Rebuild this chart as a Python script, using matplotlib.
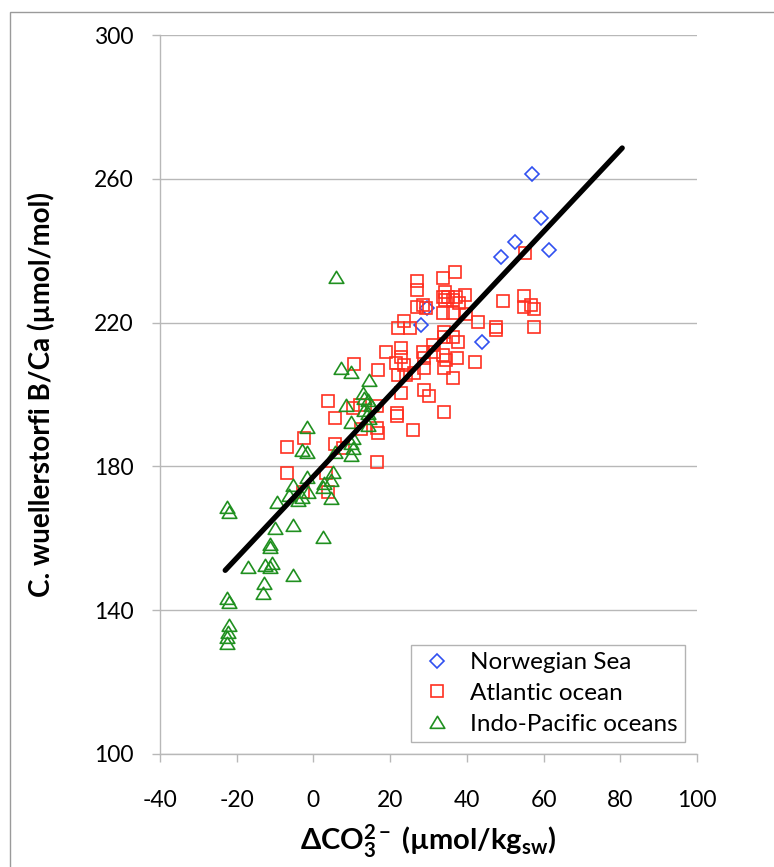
import numpy as np
import matplotlib
matplotlib.use("Agg")
import matplotlib.pyplot as plt
from matplotlib.patches import Rectangle
from matplotlib.path import Path

plt.rcParams['font.family'] = ['Lato', 'DejaVu Sans']
plt.rcParams['mathtext.fontset'] = 'custom'
plt.rcParams['mathtext.rm'] = 'Lato'
plt.rcParams['mathtext.bf'] = 'Lato:bold'
plt.rcParams['mathtext.it'] = 'Lato:italic'
plt.rcParams['axes.unicode_minus'] = False

# ---------------- data ----------------
norw_x = [57.1, 59.2, 52.5, 61.3, 48.8, 29.6, 28.1, 43.9]
norw_y = [261.3, 249.1, 242.4, 240.2, 238.2, 224.1, 219.3, 214.6]

atl_x = [55.2, 36.9, 33.9, 27.0, 27.0, 34.3, 33.9, 35.1, 37.1, 39.6,
         34.3, 36.3, 38.0, 27.0, 28.5, 29.4, 33.9, 36.3, 39.7, 49.4,
         54.9, 54.9, 56.6, 57.5, 57.5, 42.9, 47.6, 47.6, 23.6, 22.0,
         25.3, 34.1, 34.1, 36.3, 37.8, 31.1, 28.5, 28.9, 31.5, 19.0,
         22.9, 22.9, 21.6, 23.7, 33.7, 34.5, 37.4, 34.1, 42.2, 16.8,
         22.0, 24.2, 26.1, 28.7, 36.5, 22.9, 28.9, 30.2, 21.8, 21.8,
         34.1, 25.9, 16.6, 16.6, 10.7, 3.8, 5.5, 10.3, 12.2, 16.8,
         -2.4, -7.0, 5.5, 7.7, 12.3, 16.5, -7.0, 3.4, -2.7, 3.8]
atl_y = [239.4, 234.2, 232.5, 231.6, 229.1, 228.6, 227.2, 227.2, 227.2, 227.7,
         226.3, 226.3, 225.4, 224.4, 224.9, 224.0, 222.6, 222.8, 222.3, 226.1,
         227.5, 224.4, 224.9, 223.7, 218.9, 220.1, 218.9, 217.9, 220.5, 218.4,
         218.4, 217.5, 216.1, 216.1, 214.7, 213.8, 211.9, 210.1, 211.9, 211.9,
         212.8, 210.5, 208.7, 208.2, 211.0, 209.6, 210.2, 207.3, 209.0, 206.8,
         205.4, 205.4, 206.1, 207.3, 204.5, 200.3, 201.3, 199.6, 194.8, 194.1,
         195.2, 190.1, 196.8, 190.6, 208.5, 198.2, 193.4, 196.2, 197.1, 189.2,
         187.8, 185.5, 186.2, 185.0, 190.3, 181.1, 178.1, 178.1, 173.0, 173.0]

indo_x = [-22.6, -22.0, -9.4, -6.4, -5.3, -4.0, -3.1, -1.8, -1.4, 2.5,
          5.1, 4.7, 4.7, -9.9, -5.3, 2.5, -11.3, -11.3, -17.0, -12.6,
          -10.9, -11.2, -5.3, -12.9, -13.1, -22.6, -22.0, -22.0, -22.3, -22.6,
          -22.6, 7.1, 9.7, 14.4, 12.9, 13.3, 14.2, 15.1, 8.4, 13.3,
          14.2, 14.6, 14.2, 9.7, -1.6, -3.1, -1.8, 10.3, 9.9, 10.3,
          9.9, 5.5, 2.8, 6.0]
indo_y = [168.8, 167.4, 170.2, 172.0, 174.8, 170.6, 171.6, 177.1, 173.0, 174.4,
          178.5, 176.2, 171.1, 162.8, 163.7, 160.3, 158.4, 157.7, 151.9, 152.6,
          153.0, 151.9, 149.8, 147.5, 144.7, 143.3, 142.4, 135.9, 133.8, 132.6,
          130.8, 207.3, 206.3, 204.0, 200.3, 198.9, 198.4, 197.1, 197.1, 195.7,
          194.8, 193.4, 191.5, 192.4, 190.9, 184.6, 184.1, 187.8, 186.4, 185.0,
          183.2, 184.1, 175.5, 232.7]

fit_slope = 1.135
fit_intercept = 177.2
fit_x = np.array([-23.0, 80.5])

labels = ["Norwegian Sea", "Atlantic ocean", "Indo-Pacific oceans"]
x_ticks = [-40, -20, 0, 20, 40, 60, 80, 100]
y_ticks = [100, 140, 180, 220, 260, 300]

# ---------------- style ----------------
c_blue = '#3050f0'
c_red = '#ff3020'
c_green = '#209020'
grey = '#b8b8b8'

tri = Path([(-1.0, -0.8), (1.0, -0.8), (0.0, 0.85), (-1.0, -0.8)],
           [Path.MOVETO, Path.LINETO, Path.LINETO, Path.CLOSEPOLY])

fig = plt.figure(figsize=(7.74, 8.67), dpi=100)
fig.patches.append(Rectangle((10/774, -0.2), 1.2, 1.2 - 12/867,
                             transform=fig.transFigure, fill=False,
                             edgecolor='#9a9a9a', linewidth=1.0))
ax = fig.add_axes([160/774, 1 - 754/867, 537/774, 719/867])

ax.plot(norw_x, norw_y, linestyle='none', marker='D', ms=6.8, mfc='none',
        mec=c_blue, mew=1.2, label=labels[0], zorder=3)
ax.plot(atl_x, atl_y, linestyle='none', marker='s', ms=8.0, mfc='none',
        mec=c_red, mew=1.2, label=labels[1], zorder=3)
ax.plot(indo_x, indo_y, linestyle='none', marker=tri, ms=10.5, mfc='none',
        mec=c_green, mew=1.2, label=labels[2], zorder=3)
ax.plot(fit_x, fit_slope * fit_x + fit_intercept, color='black', lw=3.8,
        solid_capstyle='round', zorder=4)

ax.set_xlim(-40, 100)
ax.set_ylim(100, 300)
ax.set_xticks(x_ticks)
ax.set_yticks(y_ticks)
ax.yaxis.grid(True, color=grey, lw=1.0)
ax.set_axisbelow(True)
for s in ['top', 'right']:
    ax.spines[s].set_visible(False)
for s in ['left', 'bottom']:
    ax.spines[s].set_color(grey)
    ax.spines[s].set_linewidth(1.0)
ax.tick_params(axis='both', direction='out', length=6, width=1.0,
               color=grey, labelsize=16.5, labelcolor='black')
ax.tick_params(axis='x', pad=20)
ax.tick_params(axis='y', pad=13)

ax.set_ylabel('C. wuellerstorfi B/Ca (µmol/mol)', fontsize=20,
              fontweight='bold')
ax.yaxis.set_label_coords(-0.1955, 0.5)
ax.set_xlabel(r'$\mathbf{\Delta CO_3^{2-}}$ (µmol/kg$_{\mathbf{sw}}$)',
              fontsize=21, fontweight='bold')
ax.xaxis.set_label_coords(0.5, -0.095)

leg = ax.legend(loc='lower right', bbox_to_anchor=(0.9777, 0.0167),
                borderaxespad=0, fontsize=17.5, frameon=True, fancybox=False,
                edgecolor='#a0a0a0', labelspacing=0.4, handlelength=1.6,
                handletextpad=0.55, borderpad=0.3)
leg.get_frame().set_linewidth(1.0)

fig.savefig('out.png', dpi=100)
